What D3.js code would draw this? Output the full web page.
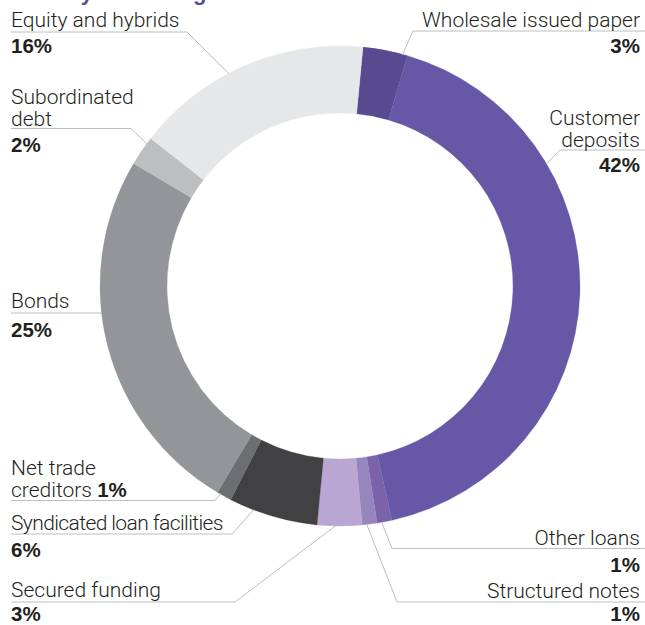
<!DOCTYPE html>
<html>
<head>
<meta charset="utf-8">
<script src="https://cdn.jsdelivr.net/npm/d3@7/dist/d3.min.js"></script>
<style>
  html, body { margin: 0; padding: 0; background: #ffffff; }
  svg { display: block; }
  .lbl { font-family: Roboto, "Liberation Sans", sans-serif; font-weight: 300; font-size: 21px; fill: #231f20; }
  .pct { font-family: "Liberation Sans", Arial, sans-serif; font-weight: 700; font-size: 20.5px; fill: #231f20; }
  .title { font-family: "Liberation Sans", Arial, sans-serif; font-weight: 700; font-size: 22px; fill: #5b4b9b; }
</style>
</head>
<body>
<svg id="chart" width="645" height="625"></svg>
<script>
// Funding sources, in drawing order (clockwise from the top)
const categories = [
  "Wholesale issued paper", "Customer deposits", "Other loans", "Structured notes",
  "Secured funding", "Syndicated loan facilities", "Net trade creditors",
  "Bonds", "Subordinated debt", "Equity and hybrids"
];
const shares = [3, 42, 1, 1, 3, 6, 1, 25, 2, 16];
const sliceColors = [
  "#574a91", "#6658a6", "#7a63ab", "#9785bd", "#b9a6d3",
  "#414042", "#6d6e71", "#939598", "#bcbec0", "#e6e7e8"
];
const pctLabels = shares.map(v => v + "%");

const svg = d3.select("#chart");
const W = 645, H = 625;
const cx = 340, cy = 286;
const outerR = 240, innerR = 173;

// Heading (runs off the top of the frame)
svg.append("text").attr("class", "title")
  .attr("x", 0).attr("y", -0.5)
  .text("Diversity of funding");

const pie = d3.pie()
  .sort(null)
  .value(d => d)
  .startAngle(5.5 * Math.PI / 180)
  .endAngle(5.5 * Math.PI / 180 + 2 * Math.PI);

const arcs = pie(shares);
const arc = d3.arc().innerRadius(innerR).outerRadius(outerR);

const g = svg.append("g").attr("transform", `translate(${cx},${cy})`);
g.selectAll("path.slice")
  .data(arcs)
  .join("path")
  .attr("class", "slice")
  .attr("d", arc)
  .attr("fill", (d, i) => sliceColors[i])
  .attr("stroke", (d, i) => sliceColors[i])
  .attr("stroke-width", 0.3);

// Label layout: text lines, anchor, underline span, knee, and where along the slice the leader meets the ring
const layout = [
  { i: 0, side: "right", lines: ["Wholesale issued paper"], base: 27, pctBase: 53, rule: 31, knee: 413, frac: 0.89 },
  { i: 1, side: "right", lines: ["Customer", "deposits"], base: 125, pctBase: 172, rule: 150, knee: 560, frac: 0.285 },
  { i: 2, side: "right", lines: ["Other loans"], base: 545, pctBase: 572, rule: 548.5, knee: 392, frac: 0.7 },
  { i: 3, side: "right", lines: ["Structured notes"], base: 598, pctBase: 621, rule: 602, knee: 397, frac: 0.7 },
  { i: 4, side: "left", lines: ["Secured funding"], base: 597, pctBase: 621, rule: 602, knee: 235, frac: 0.58 },
  { i: 5, side: "left", lines: ["Syndicated loan facilities"], base: 530, pctBase: 557, rule: 534, knee: 232, frac: 0.72, tight: -0.6 },
  { i: 6, side: "left", lines: ["Net trade", "creditors "], inlinePct: true, base: 475, rule: 500.5, knee: 215, frac: 0.78 },
  { i: 7, side: "left", lines: ["Bonds"], base: 308, pctBase: 337, rule: 313, knee: null, frac: 0.587 },
  { i: 8, side: "left", lines: ["Subordinated", "debt"], base: 104, pctBase: 152, rule: 128.5, knee: 131, frac: 0.78 },
  { i: 9, side: "left", lines: ["Equity and hybrids"], base: 27, pctBase: 53, rule: 32, knee: 187, frac: 0.425 }
];

const lineGap = 21.5;
const leftX = 11, rightX = 640;
const lines = svg.append("g").attr("fill", "none").attr("stroke", "#bcbec0").attr("stroke-width", 1);
const labels = svg.append("g");

layout.forEach(L => {
  const a = arcs[L.i];
  const ang = a.startAngle + L.frac * (a.endAngle - a.startAngle);
  const [px, py] = d3.pointRadial(ang, outerR - 0.5);
  const ex = cx + px, ey = cy + py;

  // leader: underline along the text, then a short diagonal to the ring
  let pts;
  if (L.side === "left") {
    pts = L.knee === null ? [[leftX, L.rule], [ex, L.rule]]
                          : [[leftX, L.rule], [L.knee, L.rule], [ex, ey]];
  } else {
    pts = [[W, L.rule], [L.knee, L.rule], [ex, ey]];
  }
  lines.append("path").attr("d", d3.line()(pts));

  const x = L.side === "left" ? leftX : rightX;
  const anchor = L.side === "left" ? "start" : "end";
  L.lines.forEach((t, k) => {
    const txt = labels.append("text").attr("class", "lbl")
      .attr("x", x).attr("y", L.base + k * lineGap)
      .attr("text-anchor", anchor)
      .attr("letter-spacing", L.tight || 0)
      .text(t);
    if (L.inlinePct && k === L.lines.length - 1) {
      txt.append("tspan").attr("class", "pct").text(pctLabels[L.i]);
    }
  });
  if (!L.inlinePct) {
    labels.append("text").attr("class", "pct")
      .attr("x", x).attr("y", L.pctBase)
      .attr("text-anchor", anchor)
      .text(pctLabels[L.i]);
  }
});
</script>
</body>
</html>
